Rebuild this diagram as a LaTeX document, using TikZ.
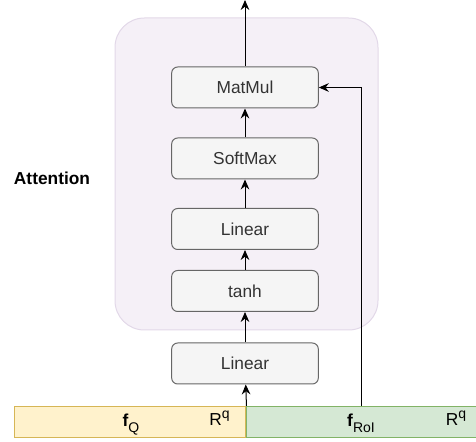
\documentclass[tikz,border=0pt]{standalone}
\usepackage{fontspec}
\setmainfont{Liberation Sans}
\usetikzlibrary{positioning,arrows.meta}
\definecolor{boxfill}{HTML}{F5F5F5}
\definecolor{boxline}{HTML}{666666}
\definecolor{boxtext}{HTML}{333333}
\definecolor{attnfill}{HTML}{F5F0F7}
\definecolor{attnline}{HTML}{E2D8E8}
\definecolor{qfill}{HTML}{FFF2CC}
\definecolor{qline}{HTML}{D6B656}
\definecolor{roifill}{HTML}{D5E8D4}
\definecolor{roiline}{HTML}{82B366}
\newcommand{\subtxt}[1]{\raisebox{-0.3em}{\fontsize{10.5}{12}\selectfont #1}}
\newcommand{\suptxt}[1]{\raisebox{0.4em}{\fontsize{10.5}{12}\selectfont #1}}
\tikzset{
  layer/.style={draw=boxline, fill=boxfill, rounded corners=4.5pt, line width=0.75pt,
    minimum width=110pt, minimum height=30.75pt, inner sep=0pt, text=boxtext},
  feat/.style={line width=0.75pt, minimum height=23.25pt, inner sep=0pt, anchor=north west},
  flow/.style={-{Stealth[length=7.5pt,width=6.5pt,inset=2.5pt]}, line width=0.75pt},
}
\begin{document}
\begin{tikzpicture}[x=0.75pt, y=-0.75pt, font=\fontsize{13}{15}\selectfont]
\useasboundingbox (0,0) rectangle (476,442);
% attention block
\node[draw=attnline, fill=attnfill, rounded corners=22pt, line width=0.75pt,
  minimum width=197.25pt, minimum height=234pt] (attn) at (246.5,174) {};
\node[font=\fontsize{13}{15}\selectfont\bfseries] (attnlab) at (52,178) {Attention};
% layers, bottom to top
\node[layer] (lin1) at (245,363.5) {Linear};
\node[layer] (tanh) at (245,291) {tanh};
\node[layer] (lin2) at (245,229) {Linear};
\node[layer] (soft) at (245,158.5) {SoftMax};
\node[layer] (matmul) at (245,87.5) {MatMul};
\coordinate (out) at (245,0);
% input features
\node[feat, fill=qfill, draw=qline, minimum width=173.6pt] (fq) at (14,406) {};
\node[feat, fill=roifill, draw=roiline, minimum width=172.5pt] (froi) at (245.5,406) {};
\node[anchor=base] (fqlab) at (131,427) {\textbf{f}\subtxt{Q}};
\node[anchor=base] (fqdim) at (219.5,425.5) {R\suptxt{q}};
\node[anchor=base] (froilab) at (361,427) {\textbf{f}\subtxt{RoI}};
\node[anchor=base] (froidim) at (456,425.5) {R\suptxt{q}};
% connectors
\draw[flow] (fq.north east) -- (lin1);
\draw[flow] (lin1) -- (tanh);
\draw[flow] (tanh) -- (lin2);
\draw[flow] (lin2) -- (soft);
\draw[flow] (soft) -- (matmul);
\draw[flow] (matmul) -- (out);
\draw[flow] (froi.north) |- (matmul.east);
\end{tikzpicture}
\end{document}
